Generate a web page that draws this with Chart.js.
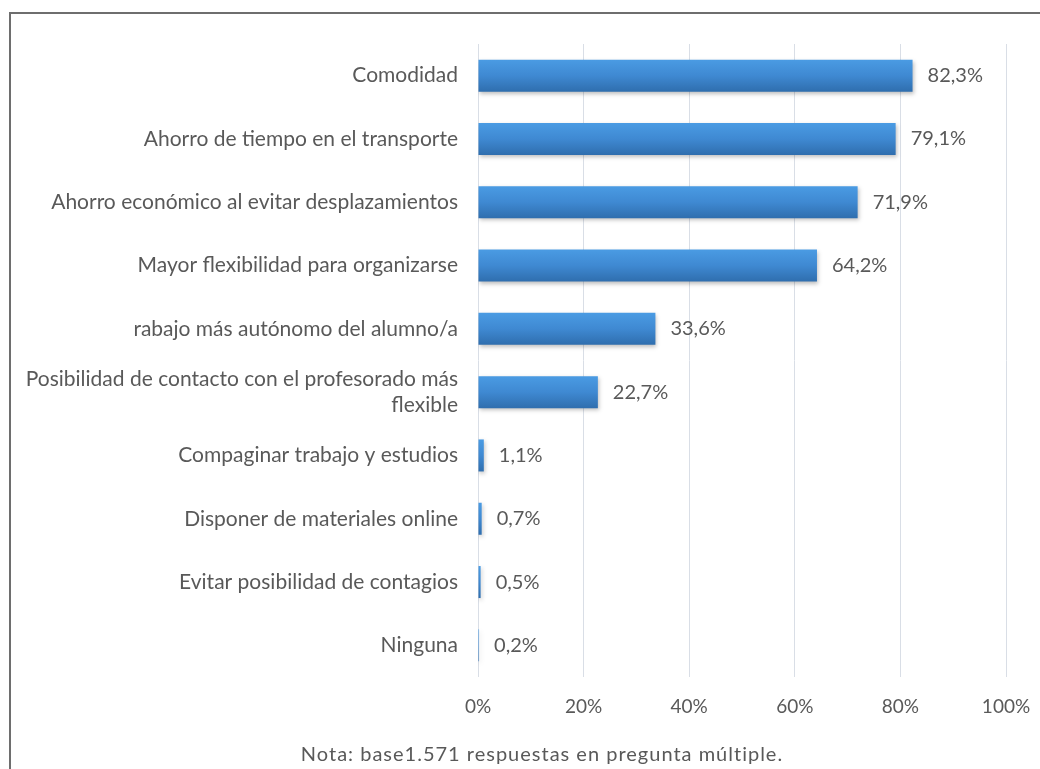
<!DOCTYPE html>
<html>
<head>
<meta charset="utf-8">
<script src="https://cdn.jsdelivr.net/npm/chart.js@4.4.1/dist/chart.umd.min.js"></script>
<style>
  html, body { margin: 0; padding: 0; background: #ffffff; }
  #wrap { position: relative; width: 1040px; height: 769px; overflow: hidden; }
  #frameTop { position: absolute; left: 9px; top: 12px; width: 1031px; height: 2px; background: #6e6e6e; }
  #frameLeft { position: absolute; left: 9px; top: 12px; width: 2px; height: 757px; background: #6e6e6e; }
  canvas { position: absolute; left: 0; top: 0; }
</style>
</head>
<body>
<div id="wrap">
  <canvas id="c" width="1040" height="769"></canvas>
  <div id="frameTop"></div>
  <div id="frameLeft"></div>
</div>
<script>
const categories = [
  "Comodidad",
  "Ahorro de tiempo en el transporte",
  "Ahorro económico al evitar desplazamientos",
  "Mayor flexibilidad para organizarse",
  "rabajo más autónomo del alumno/a",
  ["Posibilidad de contacto con el profesorado más", "flexible"],
  "Compaginar trabajo y estudios",
  "Disponer de materiales online",
  "Evitar posibilidad de contagios",
  "Ninguna"
];
const values = [82.3, 79.1, 71.9, 64.2, 33.6, 22.7, 1.1, 0.7, 0.5, 0.2];
const xTicks = [0, 20, 40, 60, 80, 100];
const noteText = "Nota: base1.571 respuestas en pregunta múltiple.";

const FONT = "Lato, 'Noto Sans', sans-serif";
const TEXT = "#595959";

const barShadow = {
  id: 'barShadow',
  beforeDatasetDraw(chart) {
    const ctx = chart.ctx;
    ctx.save();
    ctx.shadowColor = 'rgba(0,0,0,0.25)';
    ctx.shadowBlur = 4;
    ctx.shadowOffsetX = 1;
    ctx.shadowOffsetY = 2;
  },
  afterDatasetDraw(chart) {
    chart.ctx.restore();
  }
};

const valueLabels = {
  id: 'valueLabels',
  afterDatasetsDraw(chart) {
    const ctx = chart.ctx;
    const meta = chart.getDatasetMeta(0);
    ctx.save();
    ctx.font = "20px " + FONT;
    ctx.fillStyle = TEXT;
    ctx.textAlign = 'left';
    ctx.textBaseline = 'middle';
    meta.data.forEach((bar, i) => {
      const txt = values[i].toFixed(1).replace('.', ',') + '%';
      ctx.fillText(txt, bar.x + 15, bar.y);
    });
    ctx.restore();
  }
};

const note = {
  id: 'note',
  afterDraw(chart) {
    const ctx = chart.ctx;
    ctx.save();
    ctx.font = "20px " + FONT;
    if ('letterSpacing' in ctx) ctx.letterSpacing = '1px';
    ctx.fillStyle = TEXT;
    ctx.textAlign = 'center';
    ctx.textBaseline = 'middle';
    ctx.fillText(noteText, 542, 755);
    ctx.restore();
  }
};

function barGradient(context) {
  const chart = context.chart;
  const yScale = chart.scales.y;
  if (!yScale || context.dataIndex === undefined) return '#3d85cf';
  const cy = yScale.getPixelForValue(context.dataIndex);
  if (!isFinite(cy)) return '#3d85cf';
  const half = 16;
  const g = chart.ctx.createLinearGradient(0, cy - half, 0, cy + half);
  g.addColorStop(0, '#4a9be3');
  g.addColorStop(0.5, '#3f89d2');
  g.addColorStop(1, '#2f6eae');
  return g;
}

new Chart(document.getElementById('c'), {
  type: 'bar',
  data: {
    labels: categories,
    datasets: [{
      data: values,
      backgroundColor: barGradient,
      borderWidth: 0,
      categoryPercentage: 1.0,
      barPercentage: 0.506
    }]
  },
  options: {
    indexAxis: 'y',
    responsive: false,
    animation: false,
    layout: { padding: { top: 44, right: 34, bottom: 0, left: 12 } },
    plugins: {
      legend: { display: false },
      tooltip: { enabled: false },
      title: { display: false }
    },
    scales: {
      x: {
        min: 0,
        max: 100,
        afterBuildTicks(scale) {
          scale.ticks = xTicks.map(v => ({ value: v }));
        },
        afterFit(scale) {
          scale.height = 92;
          scale.paddingLeft = 0;
          scale.paddingRight = 0;
        },
        grid: { color: '#d9dee6', lineWidth: 1, drawTicks: false },
        border: { display: false },
        ticks: {
          padding: 18,
          color: TEXT,
          font: { family: FONT, size: 19 },
          callback: v => v + '%'
        }
      },
      y: {
        afterFit(scale) { scale.width = 478 - 12; },
        grid: { display: false, drawTicks: false },
        border: { display: false },
        ticks: {
          padding: 20,
          color: TEXT,
          font: { family: FONT, size: 21, lineHeight: 1.2 },
          autoSkip: false
        }
      }
    }
  },
  plugins: [barShadow, valueLabels, note]
});
</script>
</body>
</html>
